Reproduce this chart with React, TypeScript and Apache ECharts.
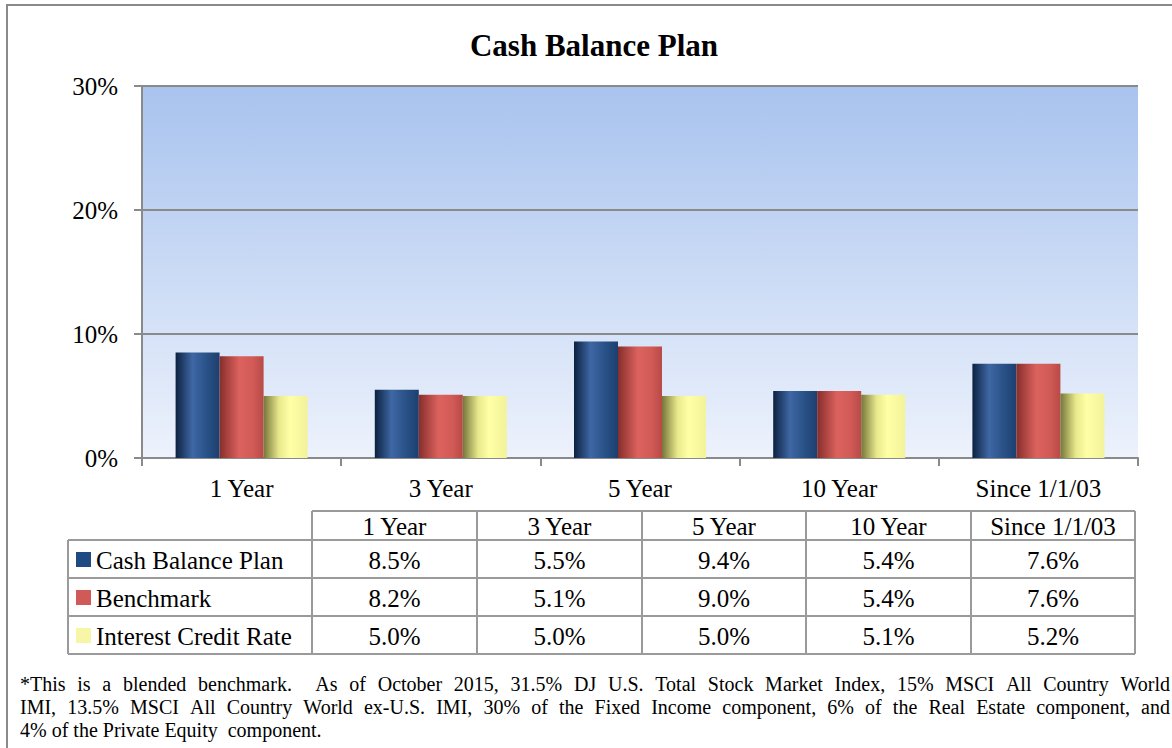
import React, { useEffect, useRef } from "react";
import * as echarts from "echarts";

const categories = ["1 Year", "3 Year", "5 Year", "10 Year", "Since 1/1/03"];
const cashBalancePlan = [8.5, 5.5, 9.4, 5.4, 7.6];
const benchmark = [8.2, 5.1, 9.0, 5.4, 7.6];
const interestCreditRate = [5.0, 5.0, 5.0, 5.1, 5.2];
const seriesNames = ["Cash Balance Plan", "Benchmark", "Interest Credit Rate"];
const seriesValues = [cashBalancePlan, benchmark, interestCreditRate];
const titleText = "Cash Balance Plan";
const footnoteLines = [
  "*This is a blended benchmark.  As of October 2015, 31.5% DJ U.S. Total Stock Market Index, 15% MSCI All Country World",
  "IMI, 13.5% MSCI All Country World ex-U.S. IMI, 30% of the Fixed Income component, 6% of the Real Estate component, and",
  "4% of the Private Equity  component.",
];

const FONT = "Liberation Serif";
const LINE = "#9a9a9a";

const barGradients = [
  [
    [0, "#0c2140"],
    [0.38, "#3e67a4"],
    [0.7, "#2a5288"],
    [1, "#1c3f6e"],
  ],
  [
    [0, "#862e2c"],
    [0.45, "#dc625e"],
    [0.75, "#d25b57"],
    [1, "#b84a47"],
  ],
  [
    [0, "#76763a"],
    [0.35, "#e8e88c"],
    [0.6, "#ffffa6"],
    [1, "#f2f29a"],
  ],
];
const legendColors = ["#1f4b82", "#d05a57", "#f6f6a6"];

function fmt(v: number) {
  return v.toFixed(1) + "%";
}

function txt(x: number, y: number, text: string, size: number, align = "left", weight = "normal") {
  return {
    type: "text",
    x,
    y,
    style: {
      text,
      fontFamily: FONT,
      fontSize: size,
      fontWeight: weight,
      fill: "#000",
      align,
      verticalAlign: "middle",
    },
  };
}

function justifyLine(text: string, y: number, x0: number, x1: number, size: number, justify: boolean) {
  if (!justify) return [txt(x0, y, text, size)];
  const canvas = document.createElement("canvas");
  const ctx = canvas.getContext("2d")!;
  ctx.font = `${size}px "${FONT}"`;
  const words = text.split(" ");
  const widths = words.map((w) => ctx.measureText(w).width);
  const total = widths.reduce((a, b) => a + b, 0);
  const gap = (x1 - x0 - total) / (words.length - 1);
  const els: any[] = [];
  let x = x0;
  words.forEach((w, i) => {
    if (w.length) els.push(txt(x, y, w, size));
    x += widths[i] + gap;
  });
  return els;
}

export default function App() {
  const ref = useRef<HTMLDivElement>(null);
  useEffect(() => {
    document.body.style.margin = "0";
    const chart = echarts.init(ref.current!, null, { renderer: "svg" });

    const colX = [312, 477, 642, 806, 971, 1135];
    const rowY = [511, 540, 578, 616, 654];
    const labelLeft = 68;
    const graphics: any[] = [];

    graphics.push({ type: "rect", shape: { x: 7, y: 5, width: 1200, height: 800 }, style: { fill: "none", stroke: "#8a8a8a", lineWidth: 2 }, silent: true });

    graphics.push(txt(594, 45, titleText, 31, "center", "bold"));

    graphics.push({ type: "line", shape: { x1: colX[0], y1: rowY[0], x2: colX[5], y2: rowY[0] }, style: { stroke: LINE, lineWidth: 2 } });
    for (let r = 1; r < rowY.length; r++) {
      graphics.push({ type: "line", shape: { x1: labelLeft, y1: rowY[r], x2: colX[5], y2: rowY[r] }, style: { stroke: LINE, lineWidth: 2 } });
    }
    colX.forEach((x) => {
      graphics.push({ type: "line", shape: { x1: x, y1: rowY[0], x2: x, y2: rowY[4] }, style: { stroke: LINE, lineWidth: 2 } });
    });
    graphics.push({ type: "line", shape: { x1: labelLeft, y1: rowY[1], x2: labelLeft, y2: rowY[4] }, style: { stroke: LINE, lineWidth: 2 } });

    categories.forEach((c, i) => {
      graphics.push(txt((colX[i] + colX[i + 1]) / 2, (rowY[0] + rowY[1]) / 2 + 1, c, 25, "center"));
    });
    seriesNames.forEach((name, r) => {
      const cy = (rowY[r + 1] + rowY[r + 2]) / 2 + 1;
      graphics.push({ type: "rect", shape: { x: 76, y: cy - 8, width: 15, height: 15 }, style: { fill: legendColors[r] } });
      graphics.push(txt(96, cy, name, 25));
      seriesValues[r].forEach((v, i) => {
        graphics.push(txt((colX[i] + colX[i + 1]) / 2, cy, fmt(v), 25, "center"));
      });
    });

    const fy = [684, 707, 730];
    footnoteLines.forEach((l, i) => {
      graphics.push(...justifyLine(l, fy[i], 20, 1170, 20, i < footnoteLines.length - 1));
    });

    chart.setOption({
      animation: false,
      grid: {
        left: 142,
        top: 86,
        right: 34,
        bottom: 290,
        show: true,
        borderWidth: 0,
        backgroundColor: new echarts.graphic.LinearGradient(0, 0, 0, 1, [
          { offset: 0, color: "#a8c3ee" },
          { offset: 1, color: "#edf2fc" },
        ]),
      },
      xAxis: {
        type: "category",
        data: categories,
        axisLine: { lineStyle: { color: "#8a8a8a", width: 2 } },
        axisTick: { show: true, length: 8, lineStyle: { color: "#8a8a8a", width: 2 } },
        axisLabel: { fontFamily: FONT, fontSize: 25, color: "#000", margin: 18 },
      },
      yAxis: {
        type: "value",
        min: 0,
        max: 30,
        interval: 10,
        axisLine: { show: true, lineStyle: { color: "#8a8a8a", width: 2 } },
        axisTick: { show: true, length: 8, lineStyle: { color: "#8a8a8a", width: 2 } },
        axisLabel: { fontFamily: FONT, fontSize: 25, color: "#000", margin: 24, formatter: "{value}%" },
        splitLine: { lineStyle: { color: "#8a8a8a", width: 2 } },
      },
      series: seriesNames.map((name, i) => ({
        type: "bar",
        name,
        data: seriesValues[i],
        barWidth: 44,
        barGap: "0%",
        itemStyle: {
          color: new echarts.graphic.LinearGradient(
            0, 0, 1, 0,
            barGradients[i].map(([o, c]) => ({ offset: o as number, color: c as string }))
          ),
        },
      })),
      graphic: graphics,
    });
    return () => chart.dispose();
  }, []);
  return <div ref={ref} style={{ width: 1172, height: 748 }} />;
}
